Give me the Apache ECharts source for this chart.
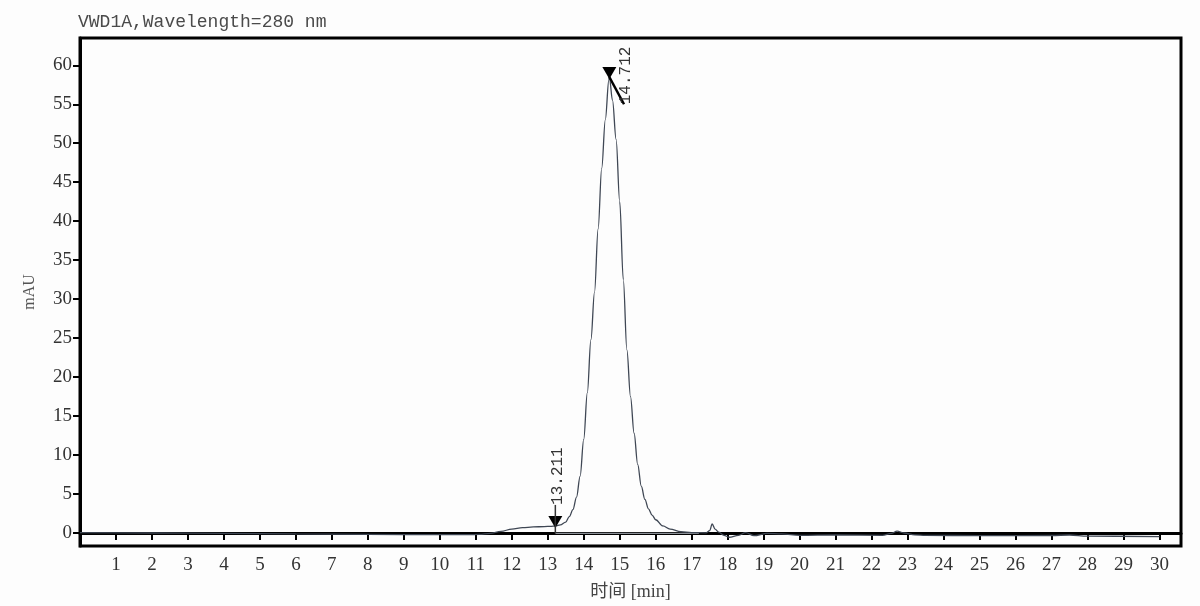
<!DOCTYPE html>
<html>
<head>
<meta charset="utf-8">
<title>VWD1A</title>
<script src="https://cdn.jsdelivr.net/npm/echarts@6/dist/echarts.min.js"></script>
<style>
  html, body { margin: 0; padding: 0; background: #fdfdfd; }
  #chart { width: 1200px; height: 606px; }
</style>
</head>
<body>
<div id="chart"></div>
<script type="text/javascript">
// retention time (min) and signal (mAU)
var times = [0, 2, 4, 6, 8, 10, 10.8, 11.1, 11.4, 11.7, 12.0, 12.3, 12.6, 12.9, 13.1, 13.211,
  13.35, 13.5, 13.6, 13.7, 13.8, 13.9, 14.0, 14.1, 14.2, 14.3, 14.4, 14.5, 14.6, 14.7, 14.712,
  14.8, 14.9, 15.0, 15.1, 15.2, 15.3, 15.4, 15.5, 15.6, 15.7, 15.8, 15.9, 16.0, 16.2, 16.4, 16.7,
  17.0, 17.4, 17.5, 17.57, 17.65, 17.75, 17.9, 18.04, 18.3, 18.5, 18.73, 19.1, 19.5, 20.0, 21.0,
  22.3, 22.55, 22.71, 22.9, 23.2, 23.5, 25.0, 27.0, 27.5, 28.0, 30.0];
var signal = [0.05, 0.0, -0.05, -0.12, -0.18, -0.22, -0.22, -0.18, -0.05, 0.2, 0.5, 0.68, 0.78, 0.82, 0.86, 0.9,
  1.05, 1.4, 2.1, 3.0, 4.6, 7.3, 12.0, 18.0, 24.8, 30.9, 39.0, 46.8, 53.0, 58.2, 58.5,
  55.5, 50.5, 42.5, 32.5, 23.5, 17.5, 12.8, 8.8, 6.0, 4.3, 3.1, 2.3, 1.7, 0.9, 0.5, 0.17,
  0.05, 0.02, 0.3, 1.15, 0.5, 0.1, -0.3, -0.55, -0.3, 0.05, -0.35, -0.05, -0.12, -0.3, -0.25,
  -0.3, -0.05, 0.25, 0.0, -0.25, -0.3, -0.35, -0.32, -0.26, -0.4, -0.48];

// integration baseline under the main peak
var baseTimes = [13.211, 17.2];
var baseValues = [-0.05, -0.05];

// integrated peaks: apex, label anchor
var peakTimes = [13.211, 14.712];
var peakValues = [0.9, 58.5];
var peakLabels = ['13.211', '14.712'];
var labelTimes = [13.211, 15.12];
var labelValues = [3.6, 55.0];

var xTicks = [];
for (var i = 1; i <= 30; i++) xTicks.push(i);
var yTicks = [0, 5, 10, 15, 20, 25, 30, 35, 40, 45, 50, 55, 60];

var trace = times.map(function (t, i) { return [t, signal[i]]; });
var baseline = baseTimes.map(function (t, i) { return [t, baseValues[i]]; });

var chart = echarts.init(document.getElementById('chart'));
var serif = '"Liberation Serif", "Noto Sans CJK SC", serif';
var mono = '"Liberation Mono", "Noto Sans CJK SC", monospace';

var option = {
  backgroundColor: '#fdfdfd',
  animation: false,
  title: {
    text: 'VWD1A,Wavelength=280 nm',
    left: 73,
    top: 8,
    textStyle: { fontFamily: mono, fontSize: 18, fontWeight: 'normal', color: '#4a4a4a' }
  },
  grid: {
    left: 80, right: 19, top: 38, bottom: 60,
    outerBoundsMode: 'none',
    containLabel: false,
    show: true, borderColor: '#000', borderWidth: 3, backgroundColor: 'transparent'
  },
  xAxis: {
    type: 'value',
    min: 0,
    max: 30.6,
    name: '时间 [min]',
    nameLocation: 'middle',
    nameGap: 37,
    nameMoveOverlap: false,
    nameTextStyle: { fontFamily: serif, fontSize: 18, color: '#444' },
    axisLine: { show: true, lineStyle: { color: '#000', width: 3 } },
    axisTick: { show: true, length: 7, lineStyle: { color: '#000', width: 2 }, customValues: xTicks },
    axisLabel: { margin: 10, fontFamily: serif, fontSize: 19, color: '#333', customValues: xTicks },
    splitLine: { show: false }
  },
  yAxis: {
    type: 'value',
    min: -1.67,
    max: 63.5,
    name: 'mAU',
    nameLocation: 'middle',
    nameGap: 42,
    nameMoveOverlap: false,
    nameTextStyle: { fontFamily: serif, fontSize: 16, color: '#555' },
    axisLine: { show: true, lineStyle: { color: '#000', width: 3 } },
    axisTick: { show: true, length: 7, lineStyle: { color: '#000', width: 2 }, customValues: yTicks },
    axisLabel: { margin: 8, fontFamily: serif, fontSize: 19, color: '#333', customValues: yTicks },
    splitLine: { show: false }
  },
  series: [
    {
      name: 'baseline',
      type: 'line',
      data: baseline,
      symbol: 'none',
      lineStyle: { color: '#8a8f96', width: 1.2 },
      z: 1
    },
    {
      name: 'VWD1A',
      type: 'line',
      data: trace,
      symbol: 'none',
      smooth: 0.35,
      smoothMonotone: 'x',
      lineStyle: { color: '#3f4754', width: 1.3 },
      z: 2
    }
  ]
};
chart.setOption(option);

// peak markers placed through the axis scales
var graphics = [];
peakTimes.forEach(function (t, i) {
  var apex = chart.convertToPixel({ xAxisIndex: 0, yAxisIndex: 0 }, [t, peakValues[i]]);
  var anchor = chart.convertToPixel({ xAxisIndex: 0, yAxisIndex: 0 }, [labelTimes[i], labelValues[i]]);
  var tipY = apex[1] + 2;
  graphics.push({
    type: 'polygon',
    shape: { points: [[apex[0] - 7, tipY - 12], [apex[0] + 7, tipY - 12], [apex[0], tipY]] },
    style: { fill: '#000' },
    z: 10
  });
  if (i === 0) {
    var foot = chart.convertToPixel({ xAxisIndex: 0, yAxisIndex: 0 }, [t, baseValues[0]]);
    graphics.push({
      type: 'line',
      shape: { x1: anchor[0], y1: anchor[1], x2: foot[0], y2: foot[1] },
      style: { stroke: '#333', lineWidth: 1.5 },
      z: 10
    });
  } else {
    graphics.push({
      type: 'line',
      shape: { x1: apex[0], y1: apex[1], x2: anchor[0], y2: anchor[1] },
      style: { stroke: '#000', lineWidth: 2.5 },
      z: 10
    });
  }
  graphics.push({
    type: 'text',
    x: anchor[0] + 2,
    y: anchor[1],
    rotation: Math.PI / 2,
    style: {
      text: peakLabels[i],
      fontFamily: mono,
      fontSize: 16,
      fill: '#333',
      align: 'left',
      verticalAlign: 'middle'
    },
    z: 10
  });
});
chart.setOption({ graphic: graphics });
</script>
</body>
</html>
